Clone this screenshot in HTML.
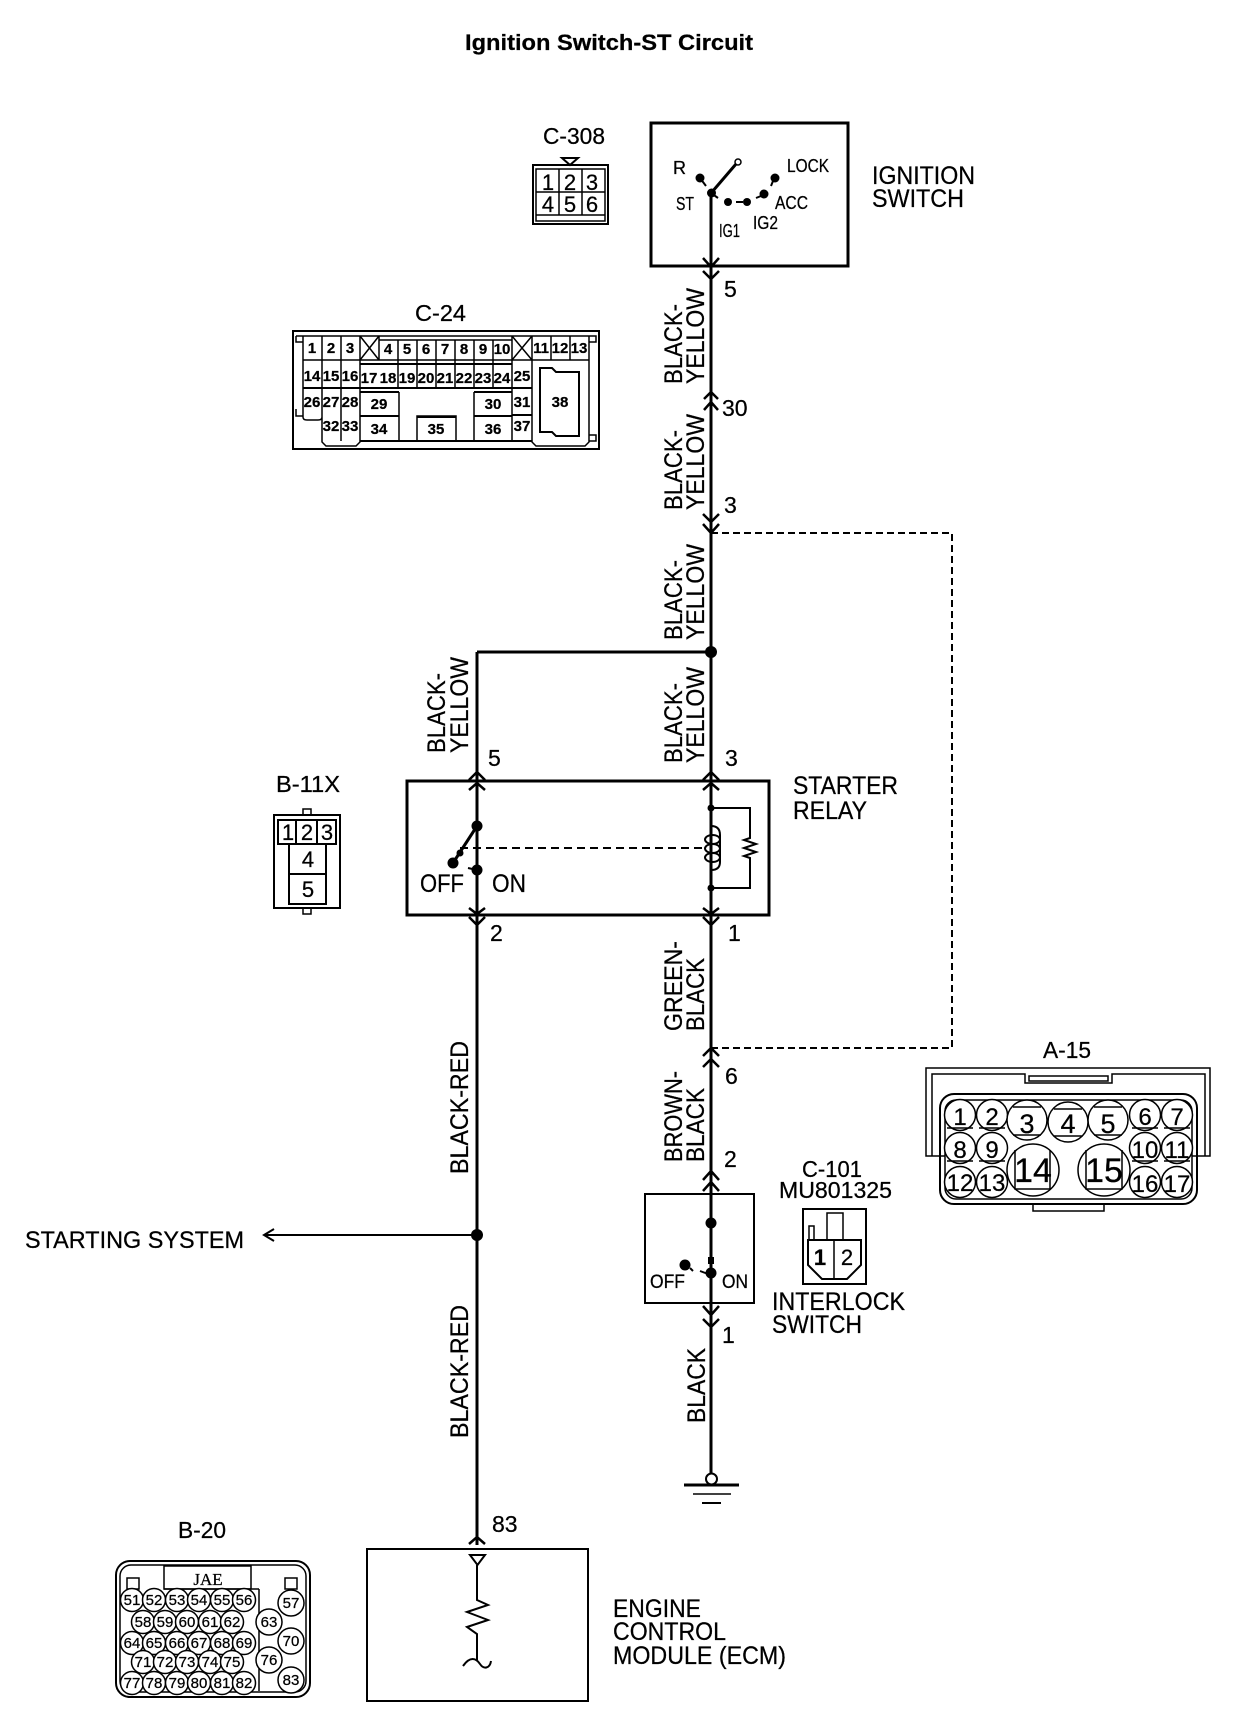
<!DOCTYPE html>
<html><head><meta charset="utf-8"><style>
html,body{margin:0;padding:0;background:#fff}
svg{display:block}
text{font-family:"Liberation Sans",sans-serif;fill:#000;stroke:#000;stroke-width:.25}
.w{fill:none;stroke:#000;stroke-width:3}
.t{fill:none;stroke:#000;stroke-width:2}
.n{fill:none;stroke:#000;stroke-width:1.5}
.c{fill:#fff;stroke:#000;stroke-width:1.5}
.b text,text.b{font-weight:bold}
.m text{text-anchor:middle}
</style></head><body>
<svg width="1248" height="1716" viewBox="0 0 1248 1716" xmlns="http://www.w3.org/2000/svg">
<rect width="1248" height="1716" fill="#fff"/>
<text x="465" y="50" font-size="22" font-weight="bold" textLength="288" lengthAdjust="spacingAndGlyphs">Ignition Switch-ST Circuit</text>

<!-- wires -->
<path class="w" d="M711 193V1480M477 652V1545M477 652H711"/>
<path d="M711 533H952V1048H711" fill="none" stroke="#000" stroke-width="2" stroke-dasharray="7 4"/>
<circle cx="711" cy="652" r="6"/>
<circle cx="477" cy="1235" r="6"/>
<path class="t" d="M477 1235H265M274 1229L264 1235L274 1241"/>
<text x="25" y="1248" font-size="24" textLength="219" lengthAdjust="spacingAndGlyphs">STARTING SYSTEM</text>

<!-- chevrons -->
<g fill="none" stroke="#000" stroke-width="2.5">
<path d="M703 258L711 267L719 258M703 271L711 279L719 271"/>
<path d="M704 399L711 392L718 399M704 410L711 402L718 410"/>
<path d="M703 524L711 533L719 524M703 514L711 522L719 514"/>
<path d="M703 780L711 772L719 780M703 790L711 783L719 790"/>
<path d="M469 780L477 772L485 780M469 790L477 783L485 790"/>
<path d="M703 908L711 914L719 908M703 917L711 925L719 917"/>
<path d="M469 908L477 914L485 908M469 917L477 925L485 917"/>
<path d="M703 1056L711 1048L719 1056M703 1067L711 1059L719 1067"/>
<path d="M703 1180L711 1171L719 1180M703 1191L711 1182L719 1191"/>
<path d="M703 1306L711 1315L719 1306M703 1319L711 1327L719 1319"/>
<path d="M469 1544L477 1537L485 1544"/>
</g>

<!-- wire numbers -->
<g font-size="23">
<text x="724" y="297">5</text>
<text x="722" y="416">30</text>
<text x="724" y="513">3</text>
<text x="488" y="766">5</text>
<text x="725" y="766">3</text>
<text x="490" y="941">2</text>
<text x="728" y="941">1</text>
<text x="725" y="1084">6</text>
<text x="724" y="1167">2</text>
<text x="722" y="1343">1</text>
<text x="492" y="1532">83</text>
</g>

<!-- rotated wire labels -->
<g font-size="25">
<text transform="translate(682,384) rotate(-90)" textLength="80" lengthAdjust="spacingAndGlyphs">BLACK-</text>
<text transform="translate(704,384) rotate(-90)" textLength="96" lengthAdjust="spacingAndGlyphs">YELLOW</text>
<text transform="translate(682,510) rotate(-90)" textLength="80" lengthAdjust="spacingAndGlyphs">BLACK-</text>
<text transform="translate(704,510) rotate(-90)" textLength="96" lengthAdjust="spacingAndGlyphs">YELLOW</text>
<text transform="translate(682,640) rotate(-90)" textLength="80" lengthAdjust="spacingAndGlyphs">BLACK-</text>
<text transform="translate(704,640) rotate(-90)" textLength="96" lengthAdjust="spacingAndGlyphs">YELLOW</text>
<text transform="translate(682,763) rotate(-90)" textLength="80" lengthAdjust="spacingAndGlyphs">BLACK-</text>
<text transform="translate(704,763) rotate(-90)" textLength="96" lengthAdjust="spacingAndGlyphs">YELLOW</text>
<text transform="translate(445,753) rotate(-90)" textLength="80" lengthAdjust="spacingAndGlyphs">BLACK-</text>
<text transform="translate(468,753) rotate(-90)" textLength="96" lengthAdjust="spacingAndGlyphs">YELLOW</text>
<text transform="translate(682,1031) rotate(-90)" textLength="90" lengthAdjust="spacingAndGlyphs">GREEN-</text>
<text transform="translate(704,1031) rotate(-90)" textLength="73" lengthAdjust="spacingAndGlyphs">BLACK</text>
<text transform="translate(682,1162) rotate(-90)" textLength="91" lengthAdjust="spacingAndGlyphs">BROWN-</text>
<text transform="translate(704,1162) rotate(-90)" textLength="74" lengthAdjust="spacingAndGlyphs">BLACK</text>
<text transform="translate(705,1423) rotate(-90)" textLength="75" lengthAdjust="spacingAndGlyphs">BLACK</text>
<text transform="translate(468,1174) rotate(-90)" textLength="133" lengthAdjust="spacingAndGlyphs">BLACK-RED</text>
<text transform="translate(468,1438) rotate(-90)" textLength="133" lengthAdjust="spacingAndGlyphs">BLACK-RED</text>
</g>

<!-- ignition switch -->
<rect x="651" y="123" width="197" height="143" class="w"/>
<text x="872" y="184" font-size="25" textLength="103" lengthAdjust="spacingAndGlyphs">IGNITION</text>
<text x="872" y="207" font-size="25" textLength="92" lengthAdjust="spacingAndGlyphs">SWITCH</text>
<g font-size="18">
<text x="673" y="174">R</text>
<text x="676" y="210" textLength="18" lengthAdjust="spacingAndGlyphs">ST</text>
<text x="787" y="172" textLength="42" lengthAdjust="spacingAndGlyphs">LOCK</text>
<text x="775" y="209" textLength="33" lengthAdjust="spacingAndGlyphs">ACC</text>
<text x="719" y="237" textLength="21" lengthAdjust="spacingAndGlyphs">IG1</text>
<text x="753" y="229" textLength="25" lengthAdjust="spacingAndGlyphs">IG2</text>
</g>
<circle cx="700" cy="178" r="4.5"/>
<circle cx="711.5" cy="193" r="4.5"/>
<circle cx="728" cy="202" r="4"/>
<circle cx="747" cy="202" r="4"/>
<circle cx="764" cy="194" r="4.5"/>
<circle cx="775" cy="178" r="4.5"/>
<circle cx="738" cy="162" r="3" class="c" stroke-width="2"/>
<path class="w" d="M712 192L736 164"/>
<path class="t" d="M700 178L706 186M711 193L718 198M736 202H743M756 198L761 196M771 186L773 181"/>

<!-- C-308 -->
<text x="543" y="144" font-size="23" textLength="62" lengthAdjust="spacingAndGlyphs">C-308</text>
<path class="t" d="M562 158H578L570 165Z"/>
<rect x="533" y="165" width="75" height="59" class="t"/>
<rect x="536" y="169" width="69" height="52" class="n"/>
<path class="n" d="M536 192H605M536 215H605M559 169V215M582 169V215"/>
<g font-size="22" class="m">
<text x="548" y="190">1</text><text x="570" y="190">2</text><text x="592" y="190">3</text>
<text x="548" y="212">4</text><text x="570" y="212">5</text><text x="592" y="212">6</text>
</g>

<!-- C-24 -->
<text x="415" y="321" font-size="23" textLength="51" lengthAdjust="spacingAndGlyphs">C-24</text>
<rect x="293" y="331" width="306" height="118" class="t"/>
<g>
<path class="n" d="M296 336H589M296 336V342H303M589 342H596V336H589M296 409V416H303M589 435H596V441H589"/>
<path class="n" d="M303 336V417Q303 420 307 420H318Q322 420 322 417M322 336V442L326 446H356L360 442V360M341 336V441M360 336V360"/>
<path class="n" d="M360 336L379 360M379 336L360 360M512 336L532 360M532 336L512 360"/>
<path class="n" d="M379 336V360M379 340H512M398 340V387M417 340V387M436 340V387M455 340V387M474 340V387M493 340V387M512 336V441M532 336V442L536 446H585L589 442V336M551 336V360M570 336V360M532 360H589"/>
<path class="n" d="M360 360H532M303 360H360M399 392V441M474 392V441M417 441V416H456V441"/>
<path class="t" d="M360 364H512M303 388H532M360 392H399M474 392H512M360 416H399M474 416H512M417 417H456M360 441H532M512 415H532"/>
<path class="t" d="M540 368H552L556 372H579V436H556L552 432H540Z"/>
</g>
<g class="b m" font-size="15">
<text x="312" y="353">1</text><text x="331" y="353">2</text><text x="350" y="353">3</text>
<text x="388" y="354">4</text><text x="407" y="354">5</text><text x="426" y="354">6</text><text x="445" y="354">7</text><text x="464" y="354">8</text><text x="483" y="354">9</text><text x="502" y="354">10</text>
<text x="541" y="353">11</text><text x="560" y="353">12</text><text x="579" y="353">13</text>
<text x="312" y="381">14</text><text x="331" y="381">15</text><text x="350" y="381">16</text>
<text x="369" y="383">17</text><text x="388" y="383">18</text><text x="407" y="383">19</text><text x="426" y="383">20</text><text x="445" y="383">21</text><text x="464" y="383">22</text><text x="483" y="383">23</text><text x="502" y="383">24</text><text x="522" y="381">25</text>
<text x="312" y="407">26</text><text x="331" y="407">27</text><text x="350" y="407">28</text>
<text x="379" y="409">29</text><text x="493" y="409">30</text><text x="522" y="407">31</text>
<text x="331" y="431">32</text><text x="350" y="431">33</text><text x="379" y="434">34</text><text x="436" y="434">35</text><text x="493" y="434">36</text><text x="522" y="431">37</text>
<text x="560" y="407">38</text>
</g>

<!-- B-11X -->
<text x="276" y="792" font-size="23" textLength="64" lengthAdjust="spacingAndGlyphs">B-11X</text>
<rect x="303" y="809" width="8" height="6" class="n"/>
<rect x="303" y="908" width="8" height="6" class="n"/>
<rect x="274" y="815" width="66" height="93" class="t"/>
<rect x="278" y="820" width="58" height="24" class="t"/>
<path class="t" d="M296 820V844M317 820V844"/>
<rect x="289" y="844" width="37" height="60" class="t"/>
<path class="t" d="M289 874H326"/>
<g font-size="22" class="m">
<text x="288" y="840">1</text><text x="307" y="840">2</text><text x="327" y="840">3</text>
<text x="308" y="867">4</text><text x="308" y="897">5</text>
</g>

<!-- relay -->
<rect x="407" y="781" width="362" height="134" class="w" fill="none"/>
<path class="w" d="M477 781V826M477 870V915M711 781V826M711 870V915"/>
<path class="w" d="M477 826L453 863"/>
<path class="t" d="M468 868L477 870"/>
<circle cx="477" cy="826" r="5.5"/><circle cx="453" cy="863" r="5.5"/><circle cx="460" cy="853" r="3.5"/><circle cx="477" cy="870" r="5.5"/>
<path d="M460 848H705" stroke="#000" stroke-width="2" stroke-dasharray="8 5" fill="none"/>
<g font-size="25">
<text x="420" y="892" textLength="44" lengthAdjust="spacingAndGlyphs">OFF</text>
<text x="492" y="892" textLength="34" lengthAdjust="spacingAndGlyphs">ON</text>
</g>
<circle cx="711" cy="808" r="3.5"/><circle cx="711" cy="888" r="3.5"/>
<path class="t" d="M711 808H750V838L744 840L756 844L744 848L756 852L744 856L750 858V888H711"/>
<path class="t" d="M711 826Q720 826 720 835V862Q720 870 711 870"/>
<ellipse cx="712.5" cy="839.5" rx="7.5" ry="4.5" class="t"/>
<ellipse cx="712.5" cy="848.5" rx="7.5" ry="4.5" class="t"/>
<ellipse cx="712.5" cy="857.5" rx="7.5" ry="4.5" class="t"/>
<text x="793" y="794" font-size="25" textLength="105" lengthAdjust="spacingAndGlyphs">STARTER</text>
<text x="793" y="819" font-size="25" textLength="74" lengthAdjust="spacingAndGlyphs">RELAY</text>

<!-- A-15 -->
<text x="1043" y="1058" font-size="23" textLength="48" lengthAdjust="spacingAndGlyphs">A-15</text>
<path class="n" d="M940 1156H926V1068H1210V1156H1197M945 1156H932V1074H1025V1083H1112V1074H1205V1156H1192M1029 1076H1108V1081H1029Z"/>
<rect x="940" y="1094" width="257" height="110" rx="14" class="t"/>
<rect x="945" y="1100" width="247" height="99" rx="11" class="n"/>
<path class="n" d="M1033 1204V1211H1104V1204"/>
<circle cx="960" cy="1115" r="15.5" class="c"/><circle cx="992" cy="1115" r="15.5" class="c"/><circle cx="1027" cy="1120" r="20" class="c"/><circle cx="1068" cy="1122" r="20" class="c"/><circle cx="1108" cy="1120" r="20" class="c"/><circle cx="1145" cy="1115" r="15.5" class="c"/><circle cx="1177" cy="1115" r="15.5" class="c"/>
<circle cx="960" cy="1148" r="15.5" class="c"/><circle cx="992" cy="1148" r="15.5" class="c"/><circle cx="1145" cy="1148" r="15.5" class="c"/><circle cx="1177" cy="1148" r="15.5" class="c"/>
<circle cx="960" cy="1182" r="15.5" class="c"/><circle cx="992" cy="1182" r="15.5" class="c"/><circle cx="1145" cy="1182" r="15.5" class="c"/><circle cx="1177" cy="1182" r="15.5" class="c"/>
<circle cx="1033" cy="1170" r="26" class="c"/><circle cx="1104" cy="1170" r="26" class="c"/>
<path class="n" d="M1015 1150V1189H1050V1150M1086 1150V1189H1122V1150M947 1128H973M979 1128H1005M1132 1128H1158M1164 1128H1190M1013 1107H1041M1013 1135H1041M1054 1109H1082M1054 1136H1082M1094 1107H1122M1094 1135H1122M947 1161H973M979 1161H1005M1132 1161H1158M1164 1161H1190"/>
<g class="m" font-size="24">
<text x="960" y="1125">1</text><text x="992" y="1125">2</text><text x="1145" y="1125">6</text><text x="1177" y="1125">7</text>
<text x="960" y="1158">8</text><text x="992" y="1158">9</text><text x="1145" y="1158">10</text><text x="1177" y="1158">11</text>
<text x="960" y="1191">12</text><text x="992" y="1191">13</text><text x="1145" y="1192">16</text><text x="1177" y="1192">17</text>
<text x="1027" y="1133" font-size="27">3</text><text x="1068" y="1133" font-size="27">4</text><text x="1108" y="1133" font-size="27">5</text>
<text x="1033" y="1182" font-size="34">14</text><text x="1104" y="1182" font-size="34">15</text>
</g>

<!-- interlock -->
<rect x="645" y="1194" width="109" height="109" class="t"/>
<circle cx="711" cy="1223" r="5.5"/><rect x="708" y="1257" width="6" height="7"/><circle cx="711" cy="1273" r="5.5"/>
<circle cx="685" cy="1265" r="5.5"/>
<path class="t" d="M690 1268L693 1271M700 1271L708 1274"/>
<text x="650" y="1288" font-size="19" textLength="35" lengthAdjust="spacingAndGlyphs">OFF</text>
<text x="722" y="1288" font-size="19" textLength="26" lengthAdjust="spacingAndGlyphs">ON</text>
<text x="802" y="1177" font-size="23" textLength="60" lengthAdjust="spacingAndGlyphs">C-101</text>
<text x="779" y="1198" font-size="23" textLength="113" lengthAdjust="spacingAndGlyphs">MU801325</text>
<rect x="803" y="1209" width="63" height="75" class="t"/>
<path class="t" d="M808 1240H861V1265L847 1279H822L808 1265Z"/>
<path class="n" d="M834 1240V1279M827 1240V1213H843V1240M809 1240V1226H814V1240"/>
<text x="820" y="1265" font-size="22" text-anchor="middle" font-weight="bold">1</text>
<text x="847" y="1265" font-size="22" text-anchor="middle">2</text>
<text x="772" y="1310" font-size="25" textLength="133" lengthAdjust="spacingAndGlyphs">INTERLOCK</text>
<text x="772" y="1333" font-size="25" textLength="90" lengthAdjust="spacingAndGlyphs">SWITCH</text>

<!-- ground -->
<circle cx="711.5" cy="1479" r="5.5" fill="#fff" stroke="#000" stroke-width="2"/>
<path d="M684 1485H739" stroke="#000" stroke-width="3"/>
<path d="M693 1494H731" stroke="#000" stroke-width="1.5"/>
<path d="M702 1503H721" stroke="#000" stroke-width="2"/>

<!-- B-20 -->
<text x="178" y="1538" font-size="23" textLength="48" lengthAdjust="spacingAndGlyphs">B-20</text>
<rect x="116" y="1561" width="194" height="136" rx="14" class="t"/>
<rect x="120" y="1565" width="186" height="127" rx="11" class="n"/>
<rect x="164" y="1566" width="87" height="23" class="n"/>
<text x="208" y="1585" font-size="17" text-anchor="middle" style="font-family:'Liberation Serif',serif">JAE</text>
<rect x="127" y="1578" width="12" height="11" class="n"/><rect x="285" y="1578" width="12" height="11" class="n"/>
<path class="n" d="M164 1589H259M259 1589V1691"/>
<circle cx="132" cy="1600" r="11.5" class="c"/><circle cx="154" cy="1600" r="11.5" class="c"/><circle cx="177" cy="1600" r="11.5" class="c"/><circle cx="199" cy="1600" r="11.5" class="c"/><circle cx="222" cy="1600" r="11.5" class="c"/><circle cx="244" cy="1600" r="11.5" class="c"/>
<circle cx="143" cy="1622" r="11.5" class="c"/><circle cx="165" cy="1622" r="11.5" class="c"/><circle cx="187" cy="1622" r="11.5" class="c"/><circle cx="210" cy="1622" r="11.5" class="c"/><circle cx="232" cy="1622" r="11.5" class="c"/>
<circle cx="132" cy="1643" r="11.5" class="c"/><circle cx="154" cy="1643" r="11.5" class="c"/><circle cx="177" cy="1643" r="11.5" class="c"/><circle cx="199" cy="1643" r="11.5" class="c"/><circle cx="222" cy="1643" r="11.5" class="c"/><circle cx="244" cy="1643" r="11.5" class="c"/>
<circle cx="143" cy="1662" r="11.5" class="c"/><circle cx="165" cy="1662" r="11.5" class="c"/><circle cx="187" cy="1662" r="11.5" class="c"/><circle cx="210" cy="1662" r="11.5" class="c"/><circle cx="232" cy="1662" r="11.5" class="c"/>
<circle cx="132" cy="1683" r="11.5" class="c"/><circle cx="154" cy="1683" r="11.5" class="c"/><circle cx="177" cy="1683" r="11.5" class="c"/><circle cx="199" cy="1683" r="11.5" class="c"/><circle cx="222" cy="1683" r="11.5" class="c"/><circle cx="244" cy="1683" r="11.5" class="c"/>
<circle cx="291" cy="1603" r="13" class="c"/><circle cx="269" cy="1622" r="13" class="c"/><circle cx="291" cy="1641" r="13" class="c"/><circle cx="269" cy="1660" r="13" class="c"/><circle cx="291" cy="1680" r="13" class="c"/>
<g class="m" font-size="15">
<text x="132" y="1605">51</text><text x="154" y="1605">52</text><text x="177" y="1605">53</text><text x="199" y="1605">54</text><text x="222" y="1605">55</text><text x="244" y="1605">56</text>
<text x="143" y="1627">58</text><text x="165" y="1627">59</text><text x="187" y="1627">60</text><text x="210" y="1627">61</text><text x="232" y="1627">62</text>
<text x="132" y="1648">64</text><text x="154" y="1648">65</text><text x="177" y="1648">66</text><text x="199" y="1648">67</text><text x="222" y="1648">68</text><text x="244" y="1648">69</text>
<text x="143" y="1667">71</text><text x="165" y="1667">72</text><text x="187" y="1667">73</text><text x="210" y="1667">74</text><text x="232" y="1667">75</text>
<text x="132" y="1688">77</text><text x="154" y="1688">78</text><text x="177" y="1688">79</text><text x="199" y="1688">80</text><text x="222" y="1688">81</text><text x="244" y="1688">82</text>
<text x="291" y="1608">57</text><text x="269" y="1627">63</text><text x="291" y="1646">70</text><text x="269" y="1665">76</text><text x="291" y="1685">83</text>
</g>

<!-- ECM -->
<rect x="367" y="1549" width="221" height="152" class="t" fill="none"/>
<path class="t" d="M470 1555H485L477.5 1565Z"/>
<path class="t" d="M477 1565V1600L488 1605L467 1612L488 1620L467 1627L477 1634V1660"/>
<path class="t" d="M463 1666C470 1656 476 1658 480 1664C484 1670 490 1668 491 1661"/>
<text x="613" y="1617" font-size="25" textLength="88" lengthAdjust="spacingAndGlyphs">ENGINE</text>
<text x="613" y="1640" font-size="25" textLength="113" lengthAdjust="spacingAndGlyphs">CONTROL</text>
<text x="613" y="1664" font-size="25" textLength="173" lengthAdjust="spacingAndGlyphs">MODULE (ECM)</text>
</svg>
</body></html>
